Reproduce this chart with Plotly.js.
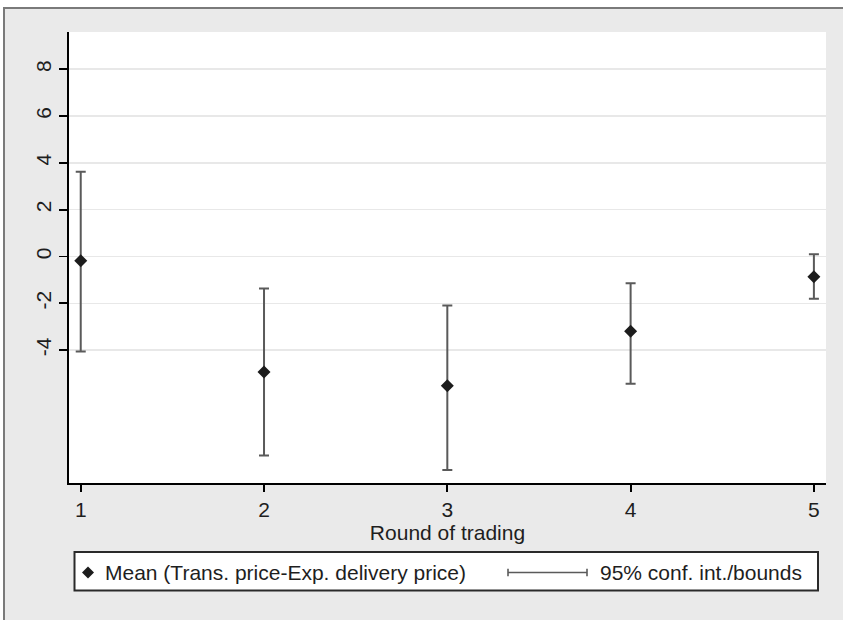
<!DOCTYPE html>
<html>
<head>
<meta charset="utf-8">
<script src="https://cdn.plot.ly/plotly-3.0.1.min.js"></script>
<style>html,body{margin:0;padding:0;background:#fff;}#chart{width:843px;height:620px;}</style>
</head>
<body>
<div id="chart"></div>
<script>
// ---- data ----
var rounds = [1, 2, 3, 4, 5];
var meanDiff = [-0.18, -4.94, -5.53, -3.20, -0.87];
var ciUpper = [3.62, -1.37, -2.10, -1.14, 0.09];
var ciLower = [-4.06, -8.51, -9.12, -5.44, -1.81];
var yTickVals = [-4, -2, 0, 2, 4, 6, 8];
var yTickText = ['-4', '-2', '0', '2', '4', '6', '8'];
var xTickVals = [1, 2, 3, 4, 5];
var legendMeanLabel = 'Mean (Trans. price-Exp. delivery price)';
var legendCiLabel = '95% conf. int./bounds';
var xTitle = 'Round of trading';

// ---- layout geometry ----
var W = 843, H = 620;
var mL = 69, mR = 17, mT = 32, mB = 137;
var pw = W - mL - mR, ph = H - mT - mB;
function PX(x) { return (x - mL) / pw; }
function PY(y) { return (H - mB - y) / ph; }

var FONT = 'Liberation Sans, Arial, sans-serif';
var TXT = '#1e1e1e';
var BARC = '#5a5a5a';

var errPlus = ciUpper.map(function (u, i) { return u - meanDiff[i]; });
var errMinus = ciLower.map(function (l, i) { return meanDiff[i] - l; });

var traces = [{
  type: 'scatter',
  mode: 'markers',
  x: rounds,
  y: meanDiff,
  name: legendMeanLabel,
  marker: { symbol: 'diamond', size: 10, color: '#1c1c1c' },
  error_y: { type: 'data', symmetric: false, array: errPlus, arrayminus: errMinus,
             color: BARC, thickness: 2, width: 5 },
  showlegend: false,
  hoverinfo: 'x+y'
}];

// legend glyph geometry (page pixels)
var lgY = 572.5;
var dCx = 88, dR = 6;
var ciX0 = 508, ciX1 = 587, capH = 3.7;

var shapes = [
  // outer grey background with frame
  { type: 'rect', xref: 'paper', yref: 'paper', layer: 'below',
    x0: PX(4), x1: PX(W + 10), y0: PY(H + 10), y1: PY(8),
    fillcolor: '#eaeaea', line: { color: '#7a7a7a', width: 2 } },
  // white plot region
  { type: 'rect', xref: 'paper', yref: 'paper', layer: 'below',
    x0: 0, x1: 1, y0: 0, y1: 1, fillcolor: '#ffffff', line: { width: 0 } },
  // legend box
  { type: 'rect', xref: 'paper', yref: 'paper', layer: 'above',
    x0: PX(74.5), x1: PX(818), y0: PY(590.5), y1: PY(552),
    fillcolor: '#ffffff', line: { color: '#2a2a2a', width: 2 } },
  // legend diamond
  { type: 'path', xref: 'paper', yref: 'paper', layer: 'above',
    path: 'M' + PX(dCx - dR) + ',' + PY(lgY) + ' L' + PX(dCx) + ',' + PY(lgY - dR) +
          ' L' + PX(dCx + dR) + ',' + PY(lgY) + ' L' + PX(dCx) + ',' + PY(lgY + dR) + ' Z',
    fillcolor: '#1c1c1c', line: { width: 0 } },
  // legend CI glyph
  { type: 'line', xref: 'paper', yref: 'paper', layer: 'above',
    x0: PX(ciX0), x1: PX(ciX1), y0: PY(lgY), y1: PY(lgY), line: { color: BARC, width: 1.6 } },
  { type: 'line', xref: 'paper', yref: 'paper', layer: 'above',
    x0: PX(ciX0), x1: PX(ciX0), y0: PY(lgY - capH), y1: PY(lgY + capH), line: { color: BARC, width: 1.6 } },
  { type: 'line', xref: 'paper', yref: 'paper', layer: 'above',
    x0: PX(ciX1), x1: PX(ciX1), y0: PY(lgY - capH), y1: PY(lgY + capH), line: { color: BARC, width: 1.6 } }
];

var annotations = [
  { xref: 'paper', yref: 'paper', x: PX(103), y: PY(lgY), xanchor: 'left', yanchor: 'middle',
    text: legendMeanLabel, showarrow: false, font: { family: FONT, size: 21, color: TXT } },
  { xref: 'paper', yref: 'paper', x: PX(598), y: PY(lgY), xanchor: 'left', yanchor: 'middle',
    text: legendCiLabel, showarrow: false, font: { family: FONT, size: 21, color: TXT } }
];

var layout = {
  width: W, height: H,
  margin: { l: mL, r: mR, t: mT, b: mB, pad: 0 },
  paper_bgcolor: '#ffffff',
  plot_bgcolor: 'rgba(0,0,0,0)',
  font: { family: FONT, size: 21, color: TXT },
  showlegend: false,
  xaxis: {
    range: [0.936, 5.066],
    tickmode: 'array', tickvals: xTickVals, ticktext: xTickVals.map(String),
    ticks: 'outside', ticklen: 7, tickwidth: 1.8, tickcolor: '#000',
    showline: true, linecolor: '#000', linewidth: 2,
    showgrid: false, zeroline: false,
    tickfont: { family: FONT, size: 21, color: TXT },
    title: { text: xTitle, standoff: 0, font: { family: FONT, size: 21, color: TXT } }
  },
  yaxis: {
    range: [-9.68, 9.59],
    tickmode: 'array', tickvals: yTickVals, ticktext: yTickText,
    tickangle: -90,
    ticks: 'outside', ticklen: 8, tickwidth: 1.8, tickcolor: '#000',
    showline: true, linecolor: '#000', linewidth: 2,
    showgrid: true, gridcolor: '#e8e8e8', gridwidth: 1.5,
    zeroline: false,
    tickfont: { family: FONT, size: 21, color: TXT }
  },
  shapes: shapes,
  annotations: annotations
};

Plotly.newPlot('chart', traces, layout, { staticPlot: true, displayModeBar: false });
</script>
</body>
</html>
